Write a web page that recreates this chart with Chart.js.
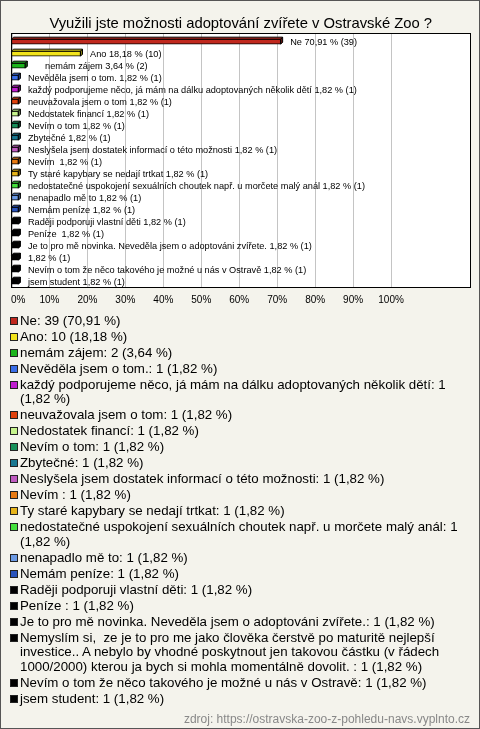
<!DOCTYPE html>
<html><head><meta charset="utf-8">
<script src="https://cdn.jsdelivr.net/npm/chart.js@4"></script>
<style>
html,body{margin:0;padding:0;}
body{width:480px;height:729px;background:#f4f3ec;position:relative;overflow:hidden;font-family:"Liberation Sans",Arial,sans-serif;}
#frame{position:absolute;left:0;top:0;width:478px;height:727px;border:1px solid #555;pointer-events:none;}
#c{position:absolute;left:0;top:0;}
#legend{position:absolute;left:10px;top:313.5px;width:462px;}
.item{display:flex;align-items:flex-start;margin-bottom:1.5px;}
.sw{width:8px;height:8px;box-sizing:border-box;border:1px solid #222;margin-top:3px;margin-right:2px;flex:none;}
.tx{font-size:13.3px;line-height:14.5px;color:#000;white-space:pre-wrap;width:450px;}
#src{position:absolute;right:10px;top:711px;font-size:12px;color:#888;line-height:16px;}
</style></head>
<body>
<canvas id="c" width="480" height="320"></canvas>
<div id="legend"></div>
<div id="src">zdroj: https://ostravska-zoo-z-pohledu-navs.vyplnto.cz</div>
<div id="frame"></div>
<script>
const chartTitle = "Využili jste možnosti adoptování zvířete v Ostravské Zoo ?";
const categories = [
  "Ne",
  "Ano",
  "    nemám zájem",
  "Nevěděla jsem o tom.",
  "každý podporujeme něco, já mám na dálku adoptovaných několik dětí",
  "neuvažovala jsem o tom",
  "Nedostatek financí",
  "Nevím o tom",
  "Zbytečné",
  "Neslyšela jsem dostatek informací o této možnosti",
  "Nevím ",
  "Ty staré kapybary se nedají trtkat",
  "nedostatečné uspokojení sexuálních choutek např. u morčete malý anál",
  "nenapadlo mě to",
  "Nemám peníze",
  "Raději podporuji vlastní děti",
  "Peníze ",
  "Je to pro mě novinka. Neveděla jsem o adoptováni zvířete.",
  "Nemyslím si,  ze je to pro me jako člověka čerstvě po maturitě nejlepší investice.. A nebylo by vhodné poskytnout jen takovou částku (v řádech 1000/2000) kterou ja bych si mohla momentálně dovolit. ",
  "Nevím o tom že něco takového je možné u nás v Ostravě",
  "jsem student"
];
const counts = [39,10,2,1,1,1,1,1,1,1,1,1,1,1,1,1,1,1,1,1,1];
const percents = [70.91,18.18,3.64,1.82,1.82,1.82,1.82,1.82,1.82,1.82,1.82,1.82,1.82,1.82,1.82,1.82,1.82,1.82,1.82,1.82,1.82];
const colors = ["#c0281e","#f2e41c","#1db51d","#3a6ee8","#c01ed0","#e0420e","#c6f48c","#17905a","#1a7890","#c05cc0","#e87a12","#e6b41a","#44e03c","#6c9ae4","#2a54bc","#000000","#000000","#000000","#000000","#000000","#000000"];
const xTicks = [0,10,20,30,40,50,60,70,80,90,100];

const fmt = v => v.toFixed(2).replace('.', ',');

function shade(hex, f){
  const n = parseInt(hex.slice(1),16);
  let r=(n>>16)&255,g=(n>>8)&255,b=n&255;
  r=Math.round(r*f);g=Math.round(g*f);b=Math.round(b*f);
  return `rgb(${r},${g},${b})`;
}

const deco = {
  id:'deco',
  beforeDatasetsDraw(chart){
    const {ctx, chartArea:a, scales:{x}} = chart;
    const top = a.top - 2.4;
    ctx.save();
    ctx.fillStyle = '#ffffff';
    ctx.fillRect(a.left, top, a.right - a.left, a.bottom - top);
    ctx.strokeStyle = '#c4c4c4';
    ctx.lineWidth = 1;
    x.ticks.forEach(t => {
      const px = Math.round(x.getPixelForValue(t.value)) + 0.5;
      ctx.beginPath(); ctx.moveTo(px, top); ctx.lineTo(px, a.bottom); ctx.stroke();
    });
    // tick labels
    ctx.fillStyle = '#000';
    ctx.font = '10px "Liberation Sans", Arial, sans-serif';
    ctx.textBaseline = 'middle';
    x.ticks.forEach((t, i) => {
      const px = x.getPixelForValue(t.value);
      ctx.textAlign = i === 0 ? 'left' : 'center';
      ctx.fillText(t.value + '%', i === 0 ? a.left - 0.5 : px, a.bottom + 12.5);
    });
    ctx.restore();
  },
  afterDatasetsDraw(chart){
    const {ctx, chartArea:a} = chart;
    const meta = chart.getDatasetMeta(0);
    ctx.save();
    const d = 2;
    meta.data.forEach((el, i) => {
      const p = el.getProps(['x','y','base','height'], true);
      const L = p.base, R = p.x, T = p.y - p.height/2, B = p.y + p.height/2;
      ctx.strokeStyle = '#000'; ctx.lineWidth = 1;
      ctx.fillStyle = colors[i];
      ctx.beginPath();
      ctx.moveTo(L, T); ctx.lineTo(L+d, T-d); ctx.lineTo(R+d, T-d); ctx.lineTo(R, T); ctx.closePath();
      ctx.fill(); ctx.stroke();
      ctx.fillStyle = shade(colors[i], 0.55);
      ctx.beginPath();
      ctx.moveTo(R, T); ctx.lineTo(R+d, T-d); ctx.lineTo(R+d, B-d); ctx.lineTo(R, B); ctx.closePath();
      ctx.fill(); ctx.stroke();
      const name = categories[i].length > 120 ? '' : categories[i] + ' ';
      ctx.fillStyle = '#000';
      ctx.font = '9.2px "Liberation Sans", Arial, sans-serif';
      ctx.textBaseline = 'middle';
      ctx.textAlign = 'left';
      ctx.fillText(`${name}${fmt(percents[i])} % (${counts[i]})`, R + 9.5, p.y + 0.5);
    });
    const top = a.top - 2.4;
    ctx.strokeStyle = '#000'; ctx.lineWidth = 1;
    const Lx = Math.floor(a.left) + 0.5, Tx = Math.floor(top) + 0.5, Rx = Math.floor(a.right) + 0.5, Bx = Math.floor(a.bottom) + 0.5;
    ctx.strokeRect(Lx, Tx, Rx - Lx, Bx - Tx);
    ctx.restore();
  }
};

new Chart(document.getElementById('c'), {
  type: 'bar',
  data: {
    labels: categories,
    datasets: [{
      data: percents,
      backgroundColor: colors,
      borderColor: '#000',
      borderWidth: 1,
      borderSkipped: false,
      barThickness: 5
    }]
  },
  options: {
    indexAxis: 'y',
    responsive: false,
    animation: false,
    devicePixelRatio: 1,
    layout: { padding: { left: 11.5, right: 10, top: 0, bottom: 2.3 } },
    plugins: {
      legend: { display: false },
      tooltip: { enabled: false },
      title: {
        display: true,
        text: chartTitle,
        color: '#000',
        font: { family: '"Liberation Sans", Arial, sans-serif', size: 14.8, weight: 'normal' },
        padding: { top: 15, bottom: 2.9 }
      }
    },
    scales: {
      x: {
        type: 'linear',
        min: 0,
        max: 120.8,
        grid: { display: false, drawTicks: false },
        border: { display: false },
        afterBuildTicks: s => { s.ticks = xTicks.map(v => ({ value: v })); },
        afterFit: s => { s.height = 30; },
        ticks: {
          display: false,
          padding: 6,
          autoSkip: false,
          font: { family: '"Liberation Sans", Arial, sans-serif', size: 10 },
          callback: v => v + '%'
        }
      },
      y: { display: false }
    }
  },
  plugins: [deco]
});

const leg = document.getElementById('legend');
categories.forEach((c, i) => {
  const it = document.createElement('div'); it.className = 'item';
  const sw = document.createElement('div'); sw.className = 'sw'; sw.style.background = colors[i];
  const tx = document.createElement('div'); tx.className = 'tx';
  tx.textContent = `${c.trimStart()}: ${counts[i]} (${fmt(percents[i])} %)`;
  it.appendChild(sw); it.appendChild(tx); leg.appendChild(it);
});
</script>
</body></html>
